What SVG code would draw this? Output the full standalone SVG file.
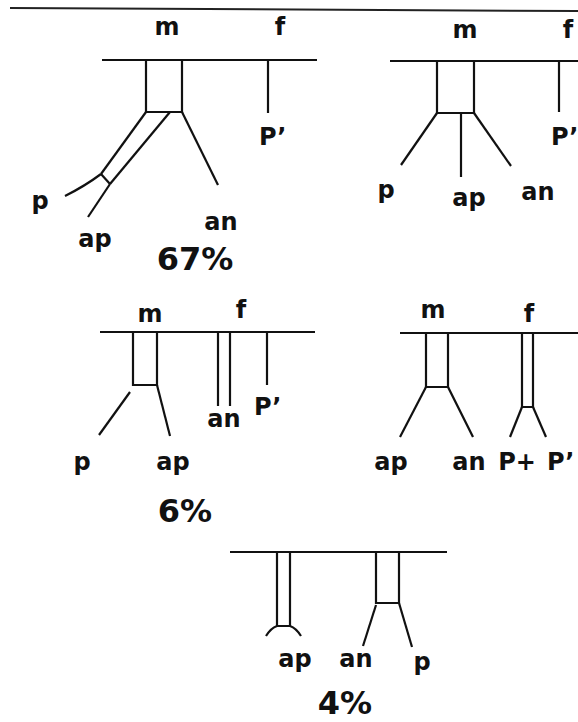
<svg xmlns="http://www.w3.org/2000/svg" width="578" height="722" viewBox="0 0 578 722">
<style>
  .ln { stroke: #111; stroke-width: 2.2; fill: none; stroke-linecap: butt; }
  .top { stroke: #222; stroke-width: 2; fill: none; }
  .lb { font-family: "DejaVu Sans", sans-serif; font-weight: bold; font-size: 24px; fill: #111; text-anchor: middle; }
  .ls { text-anchor: start; }
  .pc { font-family: "DejaVu Sans", sans-serif; font-weight: bold; font-size: 32px; fill: #111; text-anchor: middle; }
</style>
<rect width="578" height="722" fill="#fff"/>
<line class="top" x1="10" y1="8" x2="578" y2="11"/>

<g id="panel1">
  <line class="ln" x1="102" y1="60" x2="317" y2="60"/>
  <polyline class="ln" points="146,60 146,112 182,112 182,60"/>
  <line class="ln" x1="268" y1="60" x2="268" y2="113"/>
  <line class="ln" x1="146" y1="112" x2="101" y2="174"/>
  <line class="ln" x1="170" y1="112" x2="110" y2="184"/>
  <line class="ln" x1="101" y1="174" x2="110" y2="184"/>
  <path class="ln" d="M101,174 Q85,186 65,196"/>
  <line class="ln" x1="110" y1="184" x2="88" y2="217"/>
  <line class="ln" x1="182" y1="112" x2="218" y2="185"/>
  <text class="lb" x="167" y="35">m</text>
  <text class="lb" x="280" y="35">f</text>
  <text class="lb ls" x="259" y="145">P’</text>
  <text class="lb" x="40" y="209">p</text>
  <text class="lb" x="95" y="247">ap</text>
  <text class="lb" x="221" y="230">an</text>
  <text class="pc" x="195" y="270">67%</text>
</g>

<g id="panel2">
  <line class="ln" x1="390" y1="61" x2="578" y2="61"/>
  <polyline class="ln" points="437,61 437,113 474,113 474,61"/>
  <line class="ln" x1="461" y1="113" x2="461" y2="177"/>
  <line class="ln" x1="437" y1="113" x2="401" y2="165"/>
  <line class="ln" x1="474" y1="113" x2="511" y2="166"/>
  <line class="ln" x1="559" y1="61" x2="559" y2="112"/>
  <text class="lb" x="465" y="38">m</text>
  <text class="lb" x="568" y="38">f</text>
  <text class="lb ls" x="551" y="145">P’</text>
  <text class="lb" x="386" y="198">p</text>
  <text class="lb" x="469" y="206">ap</text>
  <text class="lb" x="538" y="200">an</text>
</g>

<g id="panel3">
  <line class="ln" x1="100" y1="332" x2="315" y2="332"/>
  <polyline class="ln" points="133,332 133,385 157,385 157,332"/>
  <line class="ln" x1="130" y1="392" x2="99" y2="435"/>
  <line class="ln" x1="157" y1="385" x2="170" y2="436"/>
  <line class="ln" x1="218" y1="332" x2="218" y2="406"/>
  <line class="ln" x1="230" y1="332" x2="230" y2="406"/>
  <line class="ln" x1="267" y1="332" x2="267" y2="385"/>
  <text class="lb" x="150" y="322">m</text>
  <text class="lb" x="241" y="318">f</text>
  <text class="lb" x="224" y="427">an</text>
  <text class="lb ls" x="254" y="415">P’</text>
  <text class="lb" x="82" y="470">p</text>
  <text class="lb" x="173" y="470">ap</text>
  <text class="pc" x="185" y="522">6%</text>
</g>

<g id="panel4">
  <line class="ln" x1="400" y1="333" x2="578" y2="333"/>
  <polyline class="ln" points="426,333 426,387 448,387 448,333"/>
  <line class="ln" x1="426" y1="387" x2="400" y2="437"/>
  <line class="ln" x1="448" y1="387" x2="473" y2="437"/>
  <polyline class="ln" points="522,333 522,407 533,407 533,333"/>
  <line class="ln" x1="522" y1="407" x2="510" y2="437"/>
  <line class="ln" x1="533" y1="407" x2="546" y2="437"/>
  <text class="lb" x="433" y="318">m</text>
  <text class="lb" x="529" y="322">f</text>
  <text class="lb" x="391" y="470">ap</text>
  <text class="lb" x="469" y="470">an</text>
  <text class="lb" x="517" y="470">P+</text>
  <text class="lb ls" x="547" y="470">P’</text>
</g>

<g id="panel5">
  <line class="ln" x1="230" y1="552" x2="447" y2="552"/>
  <polyline class="ln" points="277,552 277,626 290,626 290,552"/>
  <path class="ln" d="M266,636 Q271,628 277,626 M290,626 Q296,628 301,636"/>
  <polyline class="ln" points="376,552 376,603 399,603 399,552"/>
  <line class="ln" x1="376" y1="605" x2="363" y2="646"/>
  <line class="ln" x1="399" y1="603" x2="412" y2="647"/>
  <text class="lb" x="295" y="667">ap</text>
  <text class="lb" x="356" y="667">an</text>
  <text class="lb" x="422" y="670">p</text>
  <text class="pc" x="345" y="714">4%</text>
</g>

<g id="connectors"></g>
</svg>
